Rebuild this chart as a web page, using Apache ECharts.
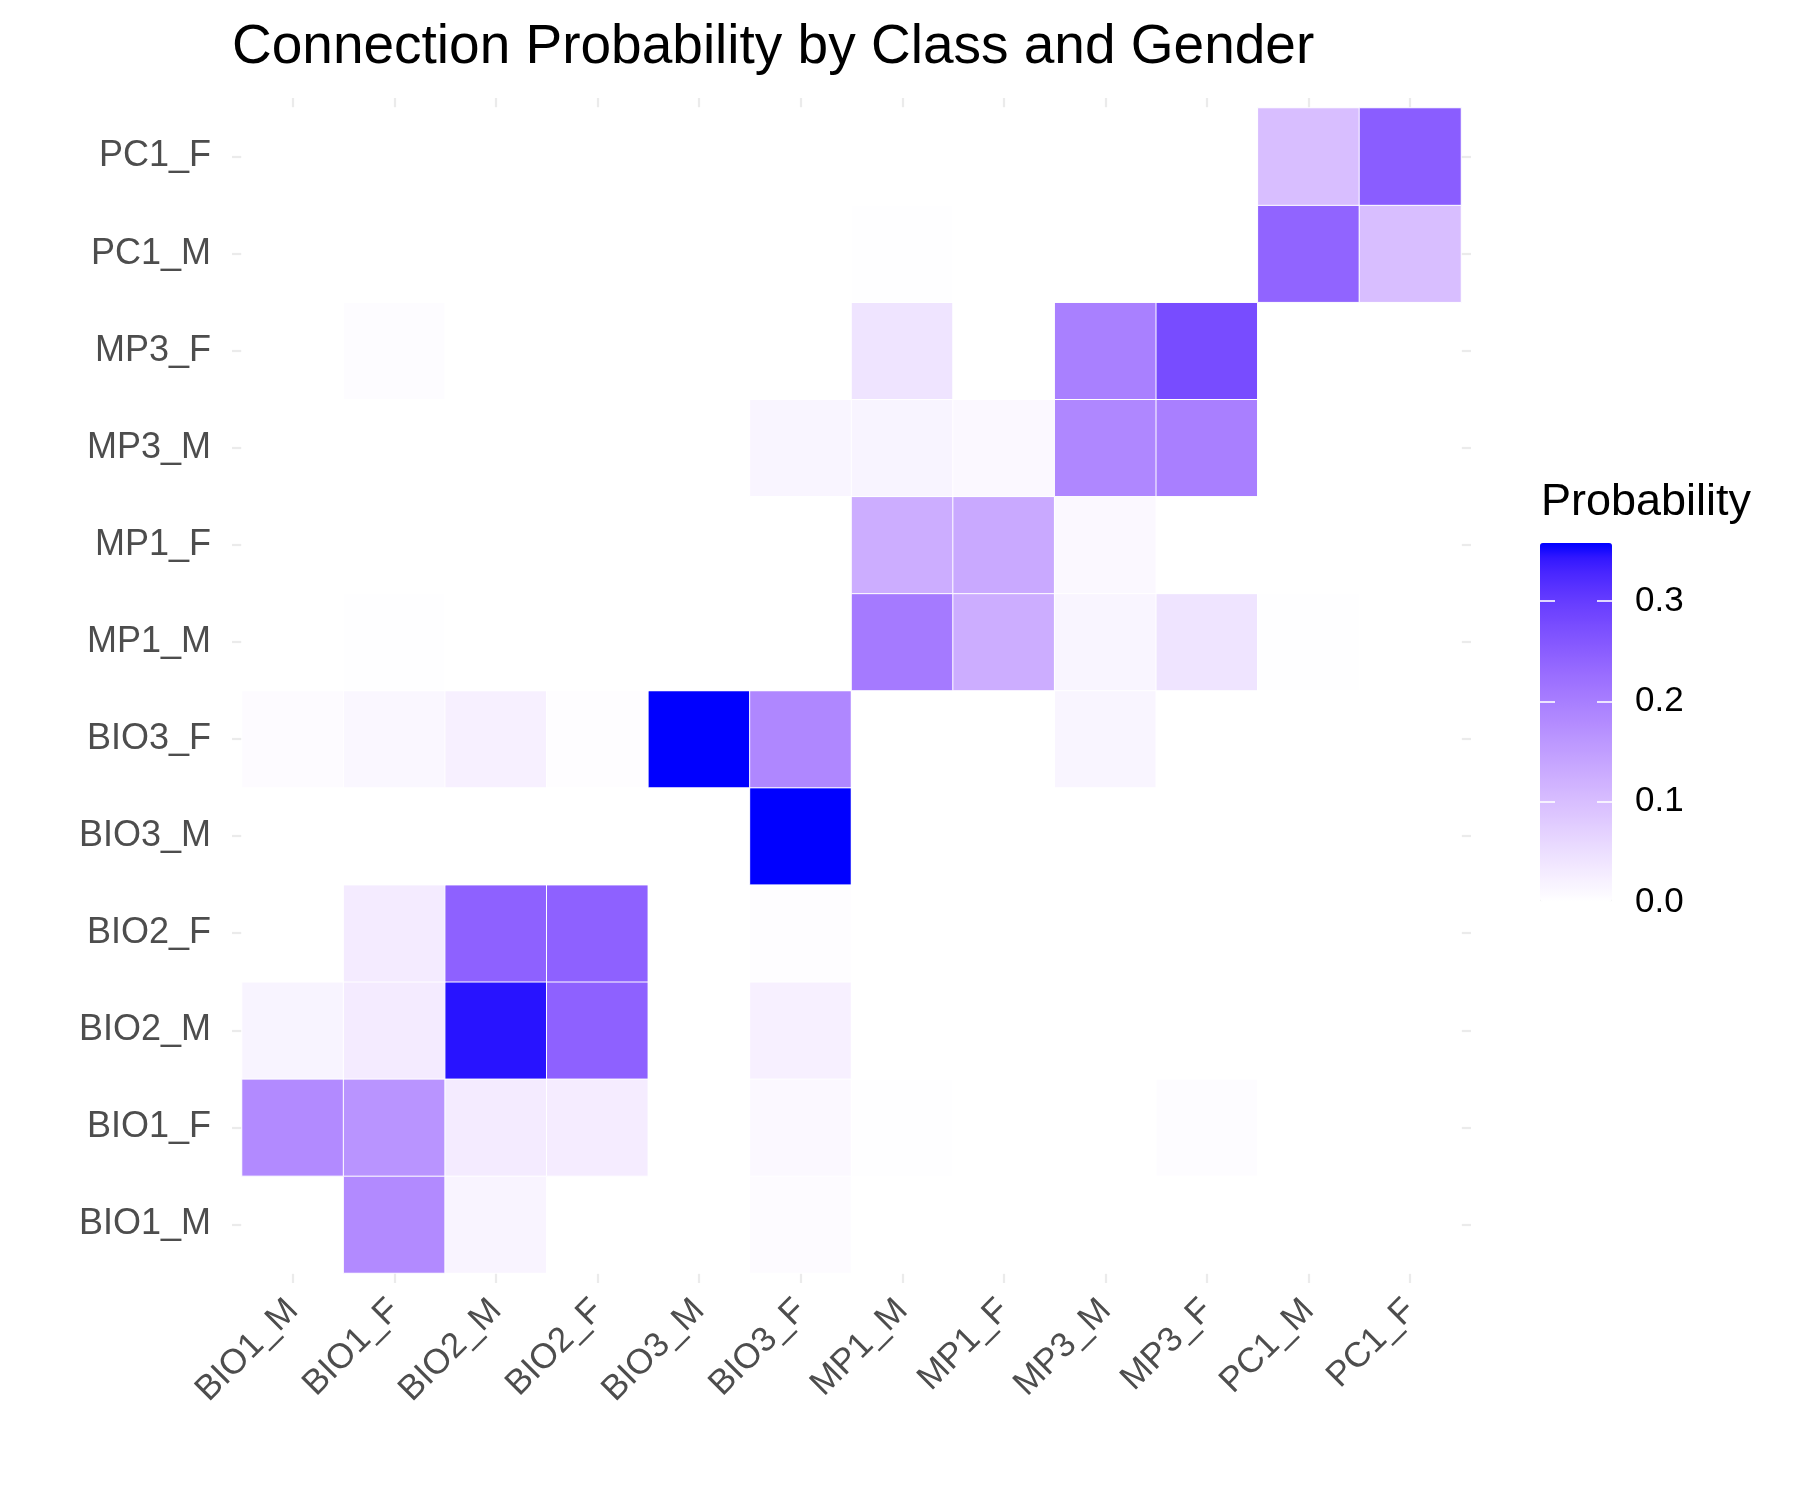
<!DOCTYPE html>
<html>
<head>
<meta charset="utf-8">
<script src="https://cdn.jsdelivr.net/npm/echarts@6/dist/echarts.min.js"></script>
<style>
html,body{margin:0;padding:0;background:#fff;}
#chart{width:1800px;height:1500px;}
</style>
</head>
<body>
<div id="chart"></div>
<script>
// Categories (bottom-to-top for y, left-to-right for x)
const categories = ['BIO1_M','BIO1_F','BIO2_M','BIO2_F','BIO3_M','BIO3_F','MP1_M','MP1_F','MP3_M','MP3_F','PC1_M','PC1_F'];

// One row per y category; values across x categories in the order above
const rowBIO1_M = [0,     0.180, 0.016, 0,     0,     0.006, 0,     0,     0,     0,     0,     0    ];
const rowBIO1_F = [0.180, 0.166, 0.030, 0.028, 0,     0.010, 0.002, 0,     0,     0.005, 0,     0    ];
const rowBIO2_M = [0.017, 0.030, 0.346, 0.244, 0,     0.022, 0,     0,     0,     0,     0,     0    ];
const rowBIO2_F = [0,     0.030, 0.244, 0.244, 0,     0.003, 0,     0,     0,     0,     0,     0    ];
const rowBIO3_M = [0,     0,     0,     0,     0,     0.358, 0,     0,     0,     0,     0,     0    ];
const rowBIO3_F = [0.006, 0.012, 0.022, 0.003, 0.358, 0.186, 0,     0,     0.015, 0,     0,     0    ];
const rowMP1_M  = [0,     0.002, 0,     0,     0,     0,     0.206, 0.126, 0.015, 0.042, 0.002, 0    ];
const rowMP1_F  = [0,     0,     0,     0,     0,     0,     0.126, 0.132, 0.010, 0,     0,     0    ];
const rowMP3_M  = [0,     0,     0,     0,     0,     0.015, 0.017, 0.010, 0.186, 0.198, 0,     0    ];
const rowMP3_F  = [0,     0.005, 0,     0,     0,     0,     0.042, 0,     0.197, 0.277, 0,     0    ];
const rowPC1_M  = [0,     0,     0,     0,     0,     0,     0.002, 0,     0,     0,     0.240, 0.100];
const rowPC1_F  = [0,     0,     0,     0,     0,     0,     0,     0,     0,     0,     0.100, 0.250];

const rows = [rowBIO1_M,rowBIO1_F,rowBIO2_M,rowBIO2_F,rowBIO3_M,rowBIO3_F,rowMP1_M,rowMP1_F,rowMP3_M,rowMP3_F,rowPC1_M,rowPC1_F];

// Legend scale
const legendMin = 0;
const legendMax = 0.358;
const legendTicks = [0, 0.1, 0.2, 0.3];

// Build heatmap data
const heatData = [];
rows.forEach((row, yi) => row.forEach((v, xi) => heatData.push([xi, yi, v])));

// Lab interpolation white -> blue (like ggplot's gradient)
function toLin(c){c/=255;return c<=0.04045?c/12.92:Math.pow((c+0.055)/1.055,2.4);}
function toSrgb(c){c = c<=0.0031308?12.92*c:1.055*Math.pow(c,1/2.4)-0.055; return Math.max(0,Math.min(255,Math.round(c*255)));}
function rgb2lab(r,g,b){
  const R=toLin(r),G=toLin(g),B=toLin(b);
  let X=(0.4124*R+0.3576*G+0.1805*B)/0.95047;
  let Y=(0.2126*R+0.7152*G+0.0722*B);
  let Z=(0.0193*R+0.1192*G+0.9505*B)/1.08883;
  const f=t=>t>0.008856?Math.cbrt(t):(7.787*t+16/116);
  const fx=f(X),fy=f(Y),fz=f(Z);
  return [116*fy-16,500*(fx-fy),200*(fy-fz)];
}
function lab2rgb(L,a,b){
  const fy=(L+16)/116, fx=fy+a/500, fz=fy-b/200;
  const fi=t=>{const t3=t*t*t;return t3>0.008856?t3:(t-16/116)/7.787;};
  const X=fi(fx)*0.95047, Y=fi(fy), Z=fi(fz)*1.08883;
  const R= 3.2406*X-1.5372*Y-0.4986*Z;
  const G=-0.9689*X+1.8758*Y+0.0415*Z;
  const B= 0.0557*X-0.2040*Y+1.0570*Z;
  const h=v=>v.toString(16).padStart(2,'0');
  return '#'+h(toSrgb(R))+h(toSrgb(G))+h(toSrgb(B));
}
const lowLab=rgb2lab(255,255,255), highLab=rgb2lab(0,0,255);
const gradient=[];
for(let i=0;i<=24;i++){const t=i/24;gradient.push(lab2rgb(lowLab[0]+(highLab[0]-lowLab[0])*t,lowLab[1]+(highLab[1]-lowLab[1])*t,lowLab[2]+(highLab[2]-lowLab[2])*t));}

const FONT = '"Liberation Sans", Arial, Helvetica, sans-serif';
const gridTick = {show:true, alignWithLabel:true, length:10, lineStyle:{color:'#EBEBEB', width:2.2}};
const barTick = {show:true, inside:true, length:15, lineStyle:{color:'#ffffff', width:1.6}};

const chart = echarts.init(document.getElementById('chart'), null, {renderer:'canvas'});
chart.setOption({
  backgroundColor:'#ffffff',
  animation:false,
  textStyle:{fontFamily:FONT},
  title:{
    text:'Connection Probability by Class and Gender',
    left:227, top:15,
    textStyle:{fontFamily:FONT, fontSize:55, fontWeight:'normal', color:'#000'}
  },
  grid:[
    {left:242, right:339, top:108, bottom:227},
    {left:1540, width:72, top:601, height:301}
  ],
  xAxis:[
    {type:'category', gridIndex:0, data:categories, position:'bottom',
     axisLine:{show:false}, axisTick:gridTick, splitLine:{show:false},
     axisLabel:{rotate:45, fontSize:35, color:'#4D4D4D', margin:32, padding:[30,0,0,0], fontFamily:FONT}},
    {type:'category', gridIndex:0, data:categories, position:'top',
     axisLine:{show:false}, axisTick:gridTick, axisLabel:{show:false}, splitLine:{show:false}},
    {type:'value', gridIndex:1, show:false, min:0, max:1}
  ],
  yAxis:[
    {type:'category', gridIndex:0, data:categories, position:'left',
     axisLine:{show:false}, axisTick:gridTick, splitLine:{show:false},
     axisLabel:{fontSize:36, color:'#4D4D4D', margin:31, padding:[5,0,0,0], fontFamily:FONT}},
    {type:'category', gridIndex:0, data:categories, position:'right',
     axisLine:{show:false}, axisTick:gridTick, axisLabel:{show:false}, splitLine:{show:false}},
    {type:'value', gridIndex:1, position:'left', min:0, max:0.3, interval:0.1, z:10,
     axisLine:{show:false}, splitLine:{show:false}, axisLabel:{show:false},
     axisTick:barTick},
    {type:'value', gridIndex:1, position:'right', min:0, max:0.3, interval:0.1, z:10,
     axisLine:{show:false}, splitLine:{show:false},
     axisTick:barTick,
     axisLabel:{show:true, fontSize:35, color:'#000', margin:23, padding:[5,0,0,0], fontFamily:FONT,
       formatter:v=>legendTicks.some(t=>Math.abs(t-v)<1e-9)?v.toFixed(1):''}}
  ],
  visualMap:{
    type:'continuous', min:legendMin, max:legendMax, calculable:false,
    orient:'vertical', left:1540, top:543, itemWidth:72, itemHeight:359,
    padding:0, text:null, showLabel:false, seriesIndex:0,
    inRange:{color:gradient}
  },
  graphic:[{
    type:'text', left:1541, top:480,
    style:{text:'Probability', fontSize:45, fill:'#000', fontFamily:FONT}
  }],
  series:[
    {type:'heatmap', xAxisIndex:0, yAxisIndex:0, data:heatData,
     itemStyle:{borderColor:'#ffffff', borderWidth:1},
     emphasis:{disabled:true}, label:{show:false}},
    {type:'scatter', xAxisIndex:2, yAxisIndex:3, data:[], silent:true}
  ]
});
</script>
</body>
</html>
